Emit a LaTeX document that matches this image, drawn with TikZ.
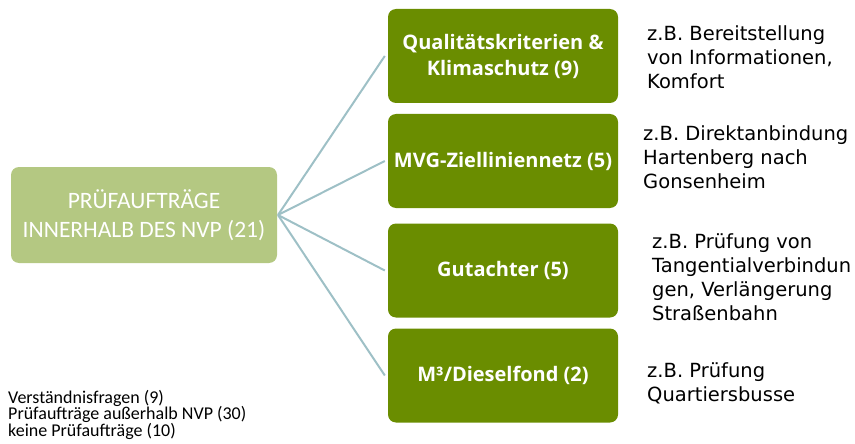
\documentclass[tikz,border=0pt]{standalone}
\usepackage{fontspec}
\setmainfont{DejaVu Sans}
\newfontfamily\calfont{Carlito}
\newfontfamily\boxfont{Open Sans}
\definecolor{darkolive}{HTML}{6A8D00}
\definecolor{lightolive}{HTML}{B4C882}
\definecolor{linkcol}{HTML}{9EC0C6}
\begin{document}
\begin{tikzpicture}[x=1pt,y=-1pt,
  rootbox/.style={draw=none,fill=lightolive,rounded corners=8pt,minimum width=266pt,minimum height=96pt,inner sep=0pt,text=white,align=center,font=\calfont\fontsize{23.5}{29}\selectfont},
  catbox/.style={draw=none,fill=darkolive,rounded corners=8pt,minimum width=230pt,minimum height=94pt,inner sep=0pt,text=white,align=center,font=\boxfont\bfseries\fontsize{20}{26}\selectfont},
  link/.style={draw=linkcol,line width=2pt},
  note/.style={anchor=west,align=left,inner sep=0pt,font=\fontsize{19.5}{24}\selectfont},
  legend/.style={anchor=north west,align=left,inner sep=0pt,font=\calfont\fontsize{18}{16.5}\selectfont}]
\useasboundingbox (0,0) rectangle (855,444);
\node[rootbox] (root) at (144,215) {PRÜFAUFTRÄGE\\INNERHALB DES NVP (21)};
\node[catbox] (c1) at (503,56) {Qualitätskriterien \&\\Klimaschutz (9)};
\node[catbox] (c2) at (503,161) {MVG-Zielliniennetz (5)};
\node[catbox] (c3) at (503,270.5) {Gutachter (5)};
\node[catbox] (c4) at (503,375.5) {M³/Dieselfond (2)};
\coordinate (hub) at (278,215);
\foreach \c in {c1,c2,c3,c4}{
  \draw[link] (hub) -- ([xshift=-3pt]\c.west);
}
\node[note] (n1) at (647,57) {z.B. Bereitstellung\\von Informationen,\\Komfort};
\node[note] (n2) at (643,157) {z.B. Direktanbindung\\Hartenberg nach\\Gonsenheim};
\node[note] (n3) at (652,277) {z.B. Prüfung von\\Tangentialverbindun\\gen, Verlängerung\\Straßenbahn};
\node[note] (n4) at (647,383.5) {z.B. Prüfung\\Quartiersbusse};
\node[legend] (lg) at (8,390) {Verständnisfragen (9)\\Prüfaufträge außerhalb NVP (30)\\keine Prüfaufträge (10)};
\end{tikzpicture}
\end{document}
